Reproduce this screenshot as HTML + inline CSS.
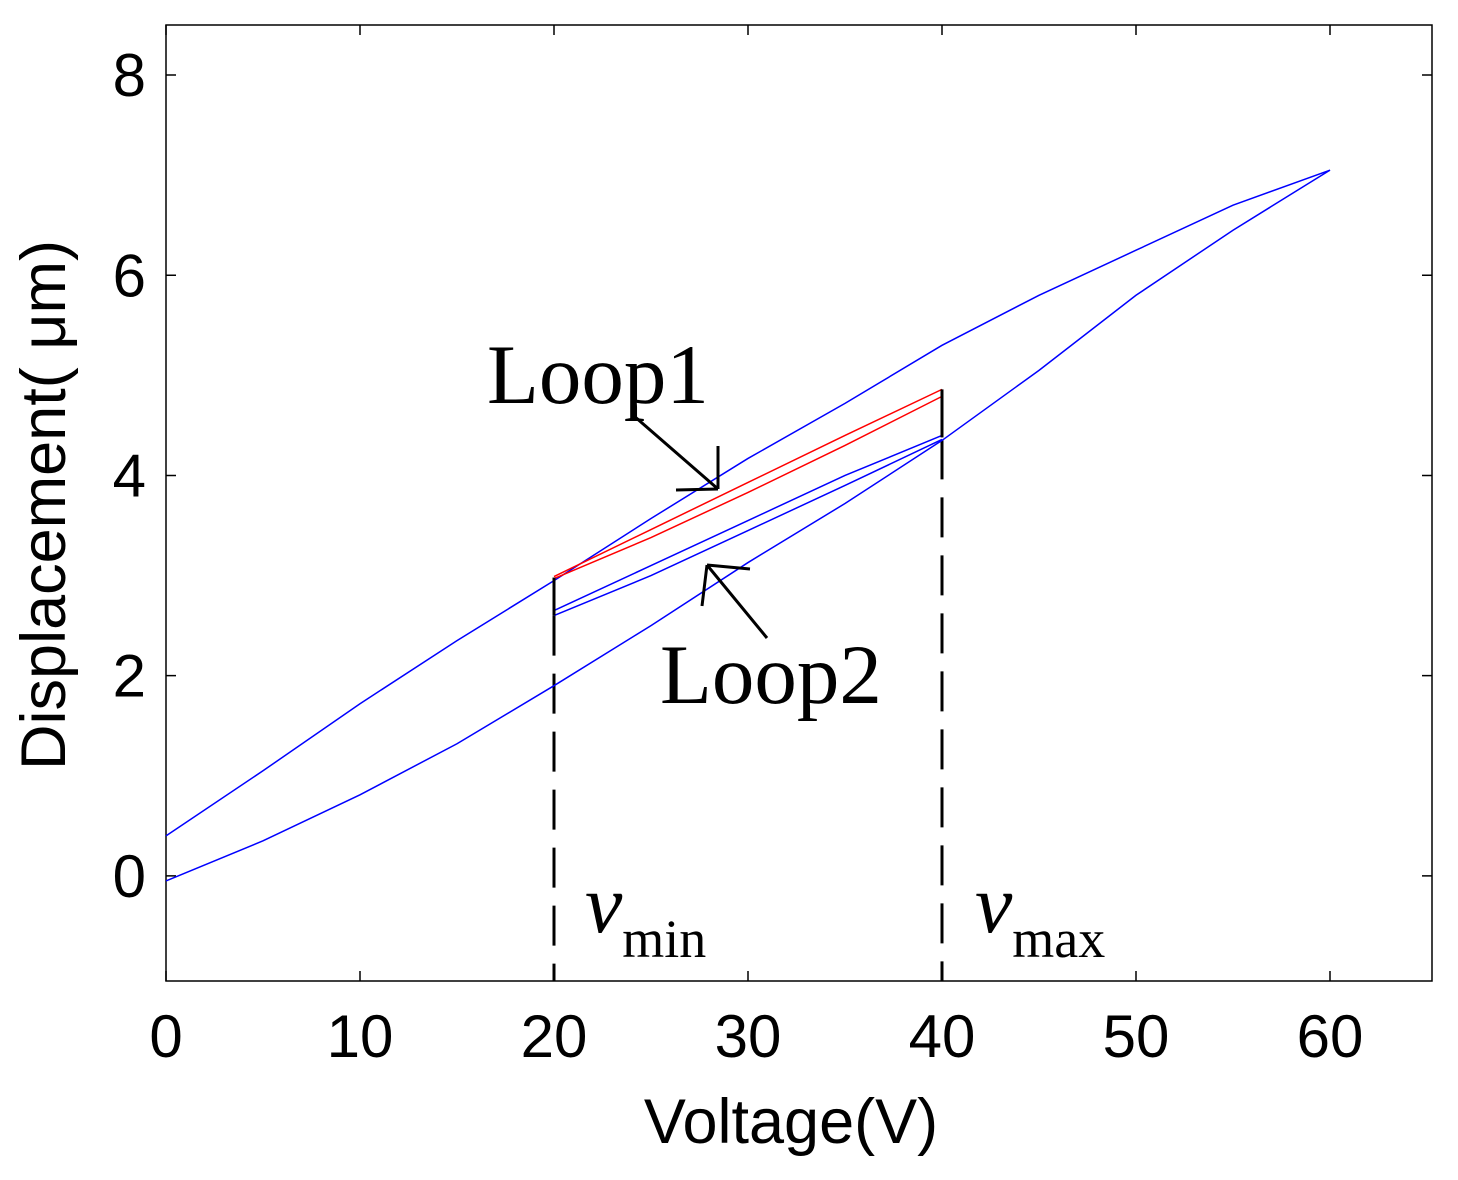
<!DOCTYPE html>
<html><head><meta charset="utf-8"><style>
body{margin:0;background:#fff;}
svg text{font-family:"Liberation Sans",sans-serif;}
</style></head><body>
<svg id="chart" width="1458" height="1175" xmlns="http://www.w3.org/2000/svg">
<rect x="166" y="25" width="1266" height="956" fill="none" stroke="#000" stroke-width="1.5"/>
<g id="ticks"></g>
<g id="series"></g>
<text x="791" y="1143" font-size="63" text-anchor="middle">Voltage(V)</text>
<text transform="translate(65,505) rotate(-90)" font-size="63" text-anchor="middle">Displacement( μm)</text>
<text x="487" y="403" font-size="85" style="font-family:'Liberation Serif',serif">Loop1</text>
<text x="660" y="703" font-size="85" style="font-family:'Liberation Serif',serif">Loop2</text>
<text x="585" y="932" font-size="84" font-style="italic" style="font-family:'Liberation Serif',serif">v<tspan font-size="54" font-style="normal" dy="25">min</tspan></text>
<text x="975" y="932" font-size="84" font-style="italic" style="font-family:'Liberation Serif',serif">v<tspan font-size="54" font-style="normal" dy="25">max</tspan></text>
<g stroke="#000" stroke-width="3" fill="none">
<path d="M634,416 L718,489 M718,489 L676,490 M718,489 L718,446"/>
<path d="M767,638 L707,565 M707,565 L750,569 M707,565 L702,606"/>
</g>
</svg>
<script>
const xTicks=[0,10,20,30,40,50,60];
const yTicks=[0,2,4,6,8];
const outerUpX=[0,5,10,15,20,25,30,35,40,45,50,55,60];
const outerUpY=[-0.05,0.35,0.81,1.32,1.9,2.5,3.13,3.72,4.35,5.05,5.8,6.45,7.05];
const outerDownX=[60,55,50,45,40,35,30,25,20,15,10,5,0];
const outerDownY=[7.05,6.7,6.25,5.8,5.3,4.72,4.17,3.57,2.95,2.35,1.72,1.05,0.4];
const loop1UpperX=[20,25,30,35,40];
const loop1UpperY=[2.99,3.46,3.93,4.4,4.86];
const loop1LowerX=[20,25,30,35,40];
const loop1LowerY=[2.97,3.38,3.83,4.3,4.79];
const loop2UpperX=[20,25,30,35,40];
const loop2UpperY=[2.65,3.1,3.55,4.0,4.4];
const loop2LowerX=[20,25,30,35,40];
const loop2LowerY=[2.6,3.0,3.45,3.9,4.36];
const vLines=[20,40];
const X=v=>166+v*19.4;
const Y=v=>981-(v+1.05)*(956/9.55);
const NS="http://www.w3.org/2000/svg";
const tg=document.getElementById('ticks'),sg=document.getElementById('series');
function mk(t,a,p){const e=document.createElementNS(NS,t);for(const k in a)e.setAttribute(k,a[k]);p.appendChild(e);return e;}
xTicks.forEach(v=>{
 const l=mk('path',{d:`M${X(v)},981v-10M${X(v)},25v10`,stroke:'#000','stroke-width':1.5},tg);
 
 
 const t=mk('text',{x:X(v),y:1057,'font-size':60,'text-anchor':'middle'},tg);t.textContent=v;
 
 
});
yTicks.forEach(v=>{
 const l=mk('path',{d:`M166,${Y(v)}h10M1432,${Y(v)}h-10`,stroke:'#000','stroke-width':1.5},tg);
 
 
 const t=mk('text',{x:146,y:Y(v)+21,'font-size':60,'text-anchor':'end'},tg);t.textContent=v;
 
 
});
vLines.forEach(v=>{
 const l=mk('line',{x1:X(v),x2:X(v),y1:Y(v==20?2.6:4.36),y2:981,stroke:'#000','stroke-width':3,'stroke-dasharray':'40,18'},sg);
 
 
});
function line(xs,ys,c,name){
 const p=mk('polyline',{points:xs.map((x,i)=>X(x)+','+Y(ys[i])).join(' '),fill:'none',stroke:c,'stroke-width':1.5},sg);
 
 
}
line(outerUpX,outerUpY,'#00f','outer-ascending-branch');
line(outerDownX,outerDownY,'#00f','outer-descending-branch');
line(loop1UpperX,loop1UpperY,'#f00','loop1-upper');
line(loop1LowerX,loop1LowerY,'#f00','loop1-lower');
line(loop2UpperX,loop2UpperY,'#00f','loop2-upper');
line(loop2LowerX,loop2LowerY,'#00f','loop2-lower');
const s1=mk('line',{x1:X(20),x2:X(20),y1:Y(2.98),y2:Y(2.6),stroke:'#000','stroke-width':3},sg);


const s2=mk('line',{x1:X(40),x2:X(40),y1:Y(4.86),y2:Y(4.38),stroke:'#000','stroke-width':3},sg);


</script>
</body></html>
